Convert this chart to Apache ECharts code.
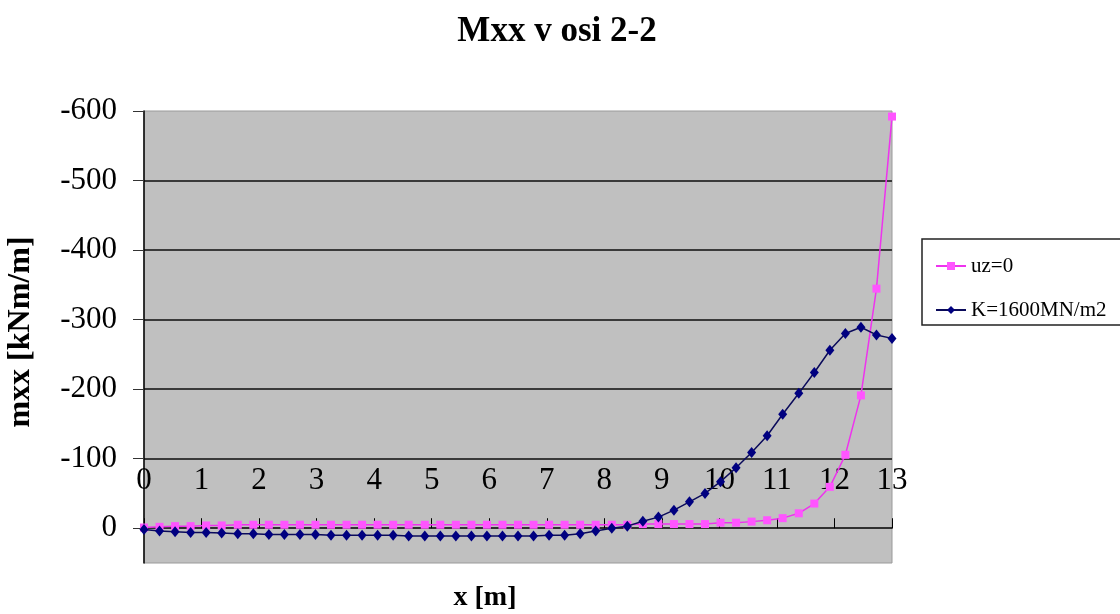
<!DOCTYPE html>
<html><head><meta charset="utf-8">
<script src="https://cdn.jsdelivr.net/npm/echarts@6/dist/echarts.min.js"></script>
<style>html,body{margin:0;padding:0;background:#fff}#c{width:1120px;height:614px}</style>
</head><body><div id="c"></div>
<script>
const xValues = [0, 0.27, 0.54, 0.81, 1.08, 1.35, 1.63, 1.9, 2.17, 2.44, 2.71, 2.98, 3.25, 3.52, 3.79, 4.06, 4.33, 4.6, 4.88, 5.15, 5.42, 5.69, 5.96, 6.23, 6.5, 6.77, 7.04, 7.31, 7.58, 7.85, 8.13, 8.4, 8.67, 8.94, 9.21, 9.48, 9.75, 10.02, 10.29, 10.56, 10.83, 11.1, 11.38, 11.65, 11.92, 12.19, 12.46, 12.73, 13];
const uz0 = [-1, -2, -3, -3, -4, -4, -5, -5, -5, -5, -5, -5, -5, -5, -5, -5, -5, -5, -5, -5, -5, -5, -5, -5, -5, -5, -5, -5, -5, -5, -5, -5, -6, -6, -6, -6, -6, -8, -8, -9.5, -11.5, -14.5, -21.5, -35.5, -59.5, -105.6, -191, -344.5, -592];
const k1600 = [2, 4, 5, 6, 6, 7, 8, 8, 9, 9, 9, 9, 10, 10, 10, 10, 10, 11, 11, 11, 11, 11, 11, 11, 11, 11, 10, 10, 8, 4, 0, -3, -10, -16, -26, -38, -50, -67, -87, -109, -133, -164, -194, -224, -256, -280, -289, -278, -273];
const yTicks = [-600, -500, -400, -300, -200, -100, 0];
const seriesNames = ['uz=0', 'K=1600MN/m2'];
const titleText = 'Mxx v osi 2-2';
const xName = 'x [m]';
const yName = 'mxx [kNm/m]';

const serif = "'Liberation Serif', 'Times New Roman', serif";
const chart = echarts.init(document.getElementById('c'), null, {renderer: 'canvas'});
chart.setOption({
  animation: false,
  backgroundColor: '#fff',
  title: {
    text: titleText, left: 552, top: 9, textAlign: 'center',
    textStyle: {fontFamily: serif, fontSize: 35, fontWeight: 'bold', color: '#000'}
  },
  legend: {
    orient: 'vertical', left: 922, top: 239,
    padding: [16, 40, 4, 13], itemGap: 22,
    itemWidth: 30, itemHeight: 10,
    borderColor: '#222', borderWidth: 1.5, backgroundColor: '#fff',
    selectedMode: false,
    textStyle: {fontFamily: serif, fontSize: 21, color: '#000', lineHeight: 22},
    data: seriesNames
  },
  grid: {
    left: 144, top: 111, right: 228, bottom: 51,
    outerBoundsMode: 'none', containLabel: false,
    show: true, backgroundColor: '#c0c0c0', borderColor: '#9a9a9a', borderWidth: 1
  },
  xAxis: {
    type: 'value', min: 0, max: 13, interval: 1,
    name: xName, nameLocation: 'middle', nameGap: 21,
    nameTextStyle: {fontFamily: serif, fontSize: 28, fontWeight: 'bold', color: '#000', padding: [0, 66, 0, 0]},
    axisLine: {show: true, onZero: true, lineStyle: {color: '#000', width: 1.5}},
    axisTick: {show: true, inside: true, length: 10, lineStyle: {color: '#000', width: 1}},
    axisLabel: {inside: true, margin: 67, fontFamily: serif, fontSize: 31, color: '#000'},
    splitLine: {show: false}
  },
  yAxis: {
    type: 'value', inverse: true, min: -600, max: 50, interval: 100,
    name: yName, nameLocation: 'middle', nameGap: 107, nameRotate: 90,
    nameTextStyle: {fontFamily: serif, fontSize: 32, fontWeight: 'bold', color: '#000', padding: [0, 0, 0, 10]},
    axisLine: {show: true, lineStyle: {color: '#000', width: 1.5}},
    axisTick: {show: true, length: 11, customValues: yTicks, lineStyle: {color: '#333', width: 1}},
    axisLabel: {margin: 27, customValues: yTicks, fontFamily: serif, fontSize: 31, color: '#000'},
    splitLine: {show: true, showMinLine: false, showMaxLine: false, lineStyle: {color: '#3a3a3a', width: 2}}
  },
  series: [
    {
      name: seriesNames[0], type: 'line',
      data: xValues.map((x, i) => [x, uz0[i]]),
      symbol: 'rect', symbolSize: 8, showAllSymbol: true,
      lineStyle: {color: '#ee33ee', width: 1.5},
      itemStyle: {color: '#ff55ff', borderWidth: 0},
      z: 3
    },
    {
      name: seriesNames[1], type: 'line',
      data: xValues.map((x, i) => [x, k1600[i]]),
      symbol: 'diamond', symbolSize: [9, 11], showAllSymbol: true,
      lineStyle: {color: '#0a0a5a', width: 1.5},
      itemStyle: {color: '#000080', borderWidth: 0},
      z: 4
    }
  ]
});
</script>
</body></html>
